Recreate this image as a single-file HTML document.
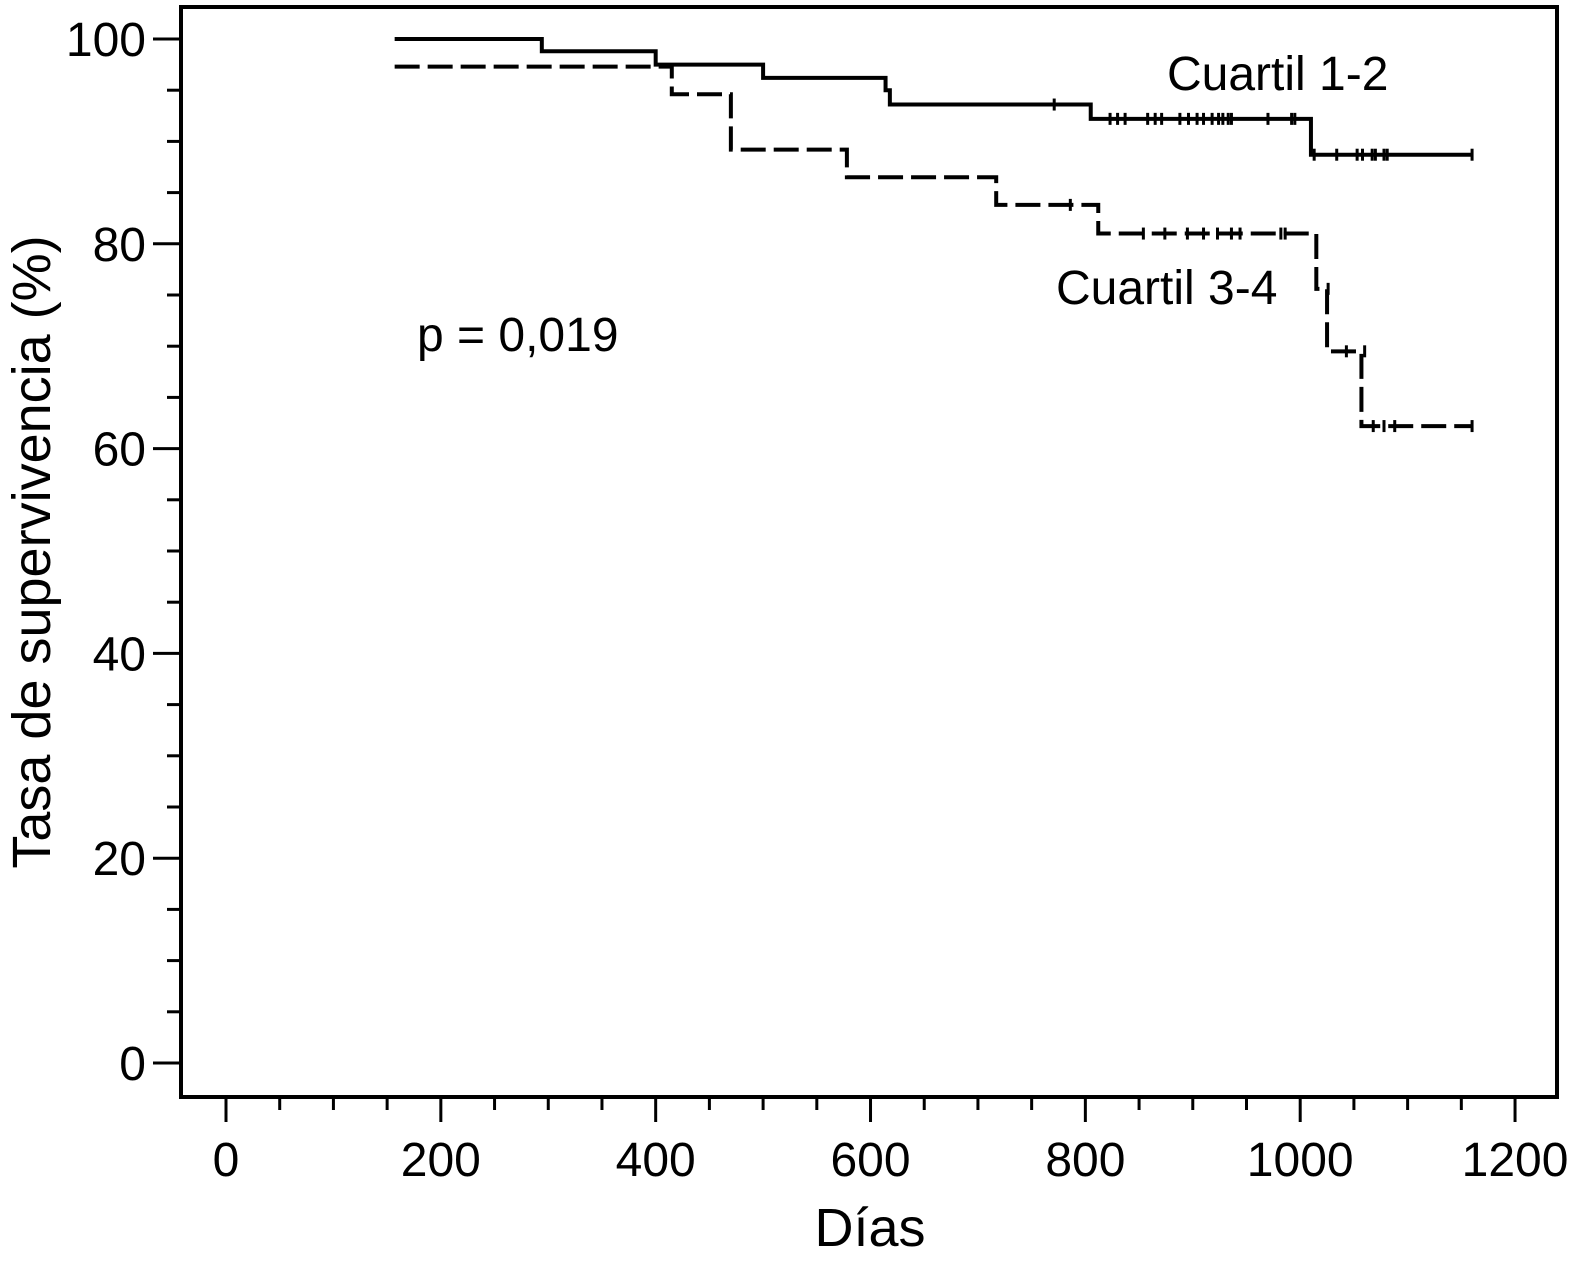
<!DOCTYPE html>
<html><head><meta charset="utf-8"><style>
html,body{margin:0;padding:0;background:#fff}
svg text{font-family:"Liberation Sans",Helvetica,sans-serif;fill:#000}
</style></head><body>
<svg id="chart" width="1583" height="1271" viewBox="0 0 1583 1271" xmlns="http://www.w3.org/2000/svg">
<rect x="181" y="7" width="1376" height="1090" fill="none" stroke="#000" stroke-width="4"/>
<g id="axes"></g>
<g id="series"></g>
<text transform="translate(50,552) rotate(-90)" text-anchor="middle" font-size="54">Tasa de supervivencia (%)</text>
<text x="870" y="1246" text-anchor="middle" font-size="54">Días</text>
<text x="417" y="351" font-size="48">p = 0,019</text>
<text x="1167" y="90" font-size="48">Cuartil 1-2</text>
<text x="1056" y="304" font-size="48">Cuartil 3-4</text>
</svg>
<script>
const xTicks=[0,200,400,600,800,1000,1200];
const yTicks=[0,20,40,60,80,100];
const s1Times=[157,294,400,500,614,618,805,1010,1160];
const s1Surv=[100,98.8,97.5,96.2,95,93.6,92.2,88.7,88.7];
const s1Cens=[[771,93.6],[823,92.2],[830,92.2],[837,92.2],[858,92.2],[865,92.2],[871,92.2],[888,92.2],[896,92.2],[904,92.2],[910,92.2],[918,92.2],[924,92.2],[928,92.2],[933,92.2],[936,92.2],[970,92.2],[992,92.2],[995,92.2],[1013,88.7],[1034,88.7],[1053,88.7],[1058,88.7],[1067,88.7],[1070,88.7],[1078,88.7],[1081,88.7],[1160,88.7]];
const s2Times=[157,415,470,578,717,812,1015,1025,1057,1160];
const s2Surv=[97.3,94.6,89.2,86.5,83.8,81,75.6,69.5,62.2,62.2];
const s2Cens=[[786,83.8],[854,81],[874,81],[895,81],[910,81],[923,81],[936,81],[944,81],[982,81],[986,81],[1026,75.6],[1043,69.5],[1060,69.5],[1068,62.2],[1078,62.2],[1088,62.2],[1160,62.2]];
const NS="http://www.w3.org/2000/svg";
const X=d=>226+d*1.0742, Y=v=>1063-v*10.24;
const ax=document.getElementById('axes'), se=document.getElementById('series');
function mk(tag,attrs,parent){const e=document.createElementNS(NS,tag);for(const k in attrs)e.setAttribute(k,attrs[k]);parent.appendChild(e);return e;}
for(let d=0;d<=1200;d+=50){const major=d%200===0;
 const t=mk('line',{x1:X(d),x2:X(d),y1:1097,y2:major?1122:1110,stroke:'#000','stroke-width':3},ax);
 
 }
xTicks.forEach(d=>{const t=mk('text',{x:X(d),y:1176,'text-anchor':'middle','font-size':48},ax);t.textContent=d;
 
 });
for(let v=0;v<=100;v+=5){const major=v%20===0;
 const t=mk('line',{x1:major?153:167,x2:181,y1:Y(v),y2:Y(v),stroke:'#000','stroke-width':3},ax);
 
 }
yTicks.forEach(v=>{const t=mk('text',{x:146,y:Y(v)+17,'text-anchor':'end','font-size':48},ax);t.textContent=v;
 
 });
function step(times,surv){let d='M'+X(times[0])+' '+Y(surv[0]);
 for(let i=1;i<times.length;i++){d+=' H'+X(times[i])+' V'+Y(surv[i]);}return d;}
const p1=mk('path',{d:step(s1Times,s1Surv),fill:'none',stroke:'#000','stroke-width':4},se);


const p2=mk('path',{d:step(s2Times,s2Surv),fill:'none',stroke:'#000','stroke-width':4,'stroke-dasharray':'25 8'},se);


[[s1Cens,'censor-mark-q12'],[s2Cens,'censor-mark-q34']].forEach(([arr,nm])=>arr.forEach(([d,v])=>{
 const l=mk('line',{x1:X(d),x2:X(d),y1:Y(v)-6,y2:Y(v)+6,stroke:'#000','stroke-width':3},se);
 
 }));
</script>
</body></html>
